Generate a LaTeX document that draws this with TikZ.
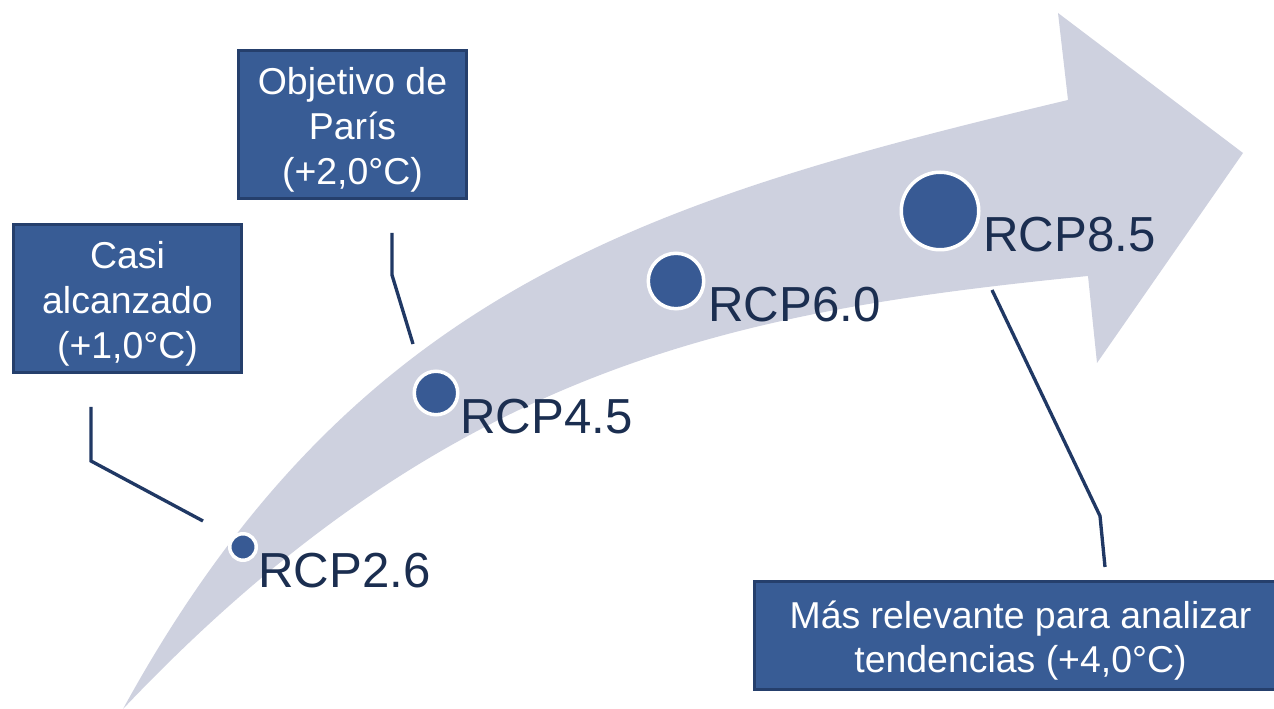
\documentclass[tikz,border=0pt]{standalone}
\usepackage{fontspec}
\setmainfont{Liberation Sans}
\definecolor{arrowgray}{HTML}{CED1DF}
\definecolor{dotblue}{HTML}{385A94}
\definecolor{boxblue}{HTML}{385C95}
\definecolor{boxedge}{HTML}{253F6C}
\definecolor{labelnavy}{HTML}{1B2E50}
\definecolor{leadnavy}{HTML}{203864}
\newcommand\toppad{\rule{0pt}{21.5pt}}
\begin{document}
\begin{tikzpicture}[x=0.02cm,y=0.02cm]

      \useasboundingbox (0,0) rectangle (1274,709);

      \fill[arrowgray] (123,0) .. controls (353,420) and (648,509) .. (1068,609)
        -- (1058,696) -- (1243,556) -- (1097,346) -- (1088,433)
        .. controls (738,398) and (450,345) .. (123,0) -- cycle;

      \begin{scope}[every node/.style={circle,fill=dotblue,draw=white,line width=2pt,inner sep=0pt}]
        \node[minimum size=0.53cm] (1) at (243,162) {};
        \node[minimum size=0.87cm] (2) at (436,316) {};
        \node[minimum size=1.11cm] (3) at (676,428) {};
        \node[minimum size=1.55cm] (4) at (940,498) {};
      \end{scope}

      \begin{scope}[every node/.style={anchor=base west,inner sep=0pt,text=labelnavy,font=\fontsize{28}{32}\selectfont}]
        \node (r1) at (258,121) {RCP2.6};
        \node (r2) at (460,275) {RCP4.5};
        \node (r3) at (708,387) {RCP6.0};
        \node (r4) at (983,457) {RCP8.5};
      \end{scope}

      \begin{scope}[every node/.style={rectangle,fill=boxblue,draw=boxedge,line width=1.5pt,text=white,align=center,inner sep=0pt,font=\fontsize{21.3}{25.5}\selectfont}]
        \node[minimum width=4.55cm,minimum height=2.95cm] (a) at (127.5,410.5) {\toppad Casi\\alcanzado\\(+1,0°C)};
        \node[minimum width=4.55cm,minimum height=2.95cm] (b) at (352.5,584.5) {\toppad Objetivo de\\París\\(+2,0°C)};
        \node[minimum width=10.65cm,minimum height=2.15cm] (c) at (1020.5,73.5) {\toppad Más relevante para analizar\\tendencias (+4,0°C)};
      \end{scope}

      \coordinate (a1) at (91,302);
      \coordinate (a2) at (91,248);
      \coordinate (a3) at (203,188);
      \coordinate (b1) at (392,476);
      \coordinate (b2) at (392,434);
      \coordinate (b3) at (413,365);
      \coordinate (c1) at (992,419);
      \coordinate (c2) at (1100,193);
      \coordinate (c3) at (1105,142);

      \begin{scope}[every path/.style={draw=leadnavy,line width=1.9pt}]
        \path (a1) -- (a2) -- (a3);
        \path (b1) -- (b2) -- (b3);
        \path (c1) -- (c2) -- (c3);
      \end{scope}

    \end{tikzpicture}
\end{document}
